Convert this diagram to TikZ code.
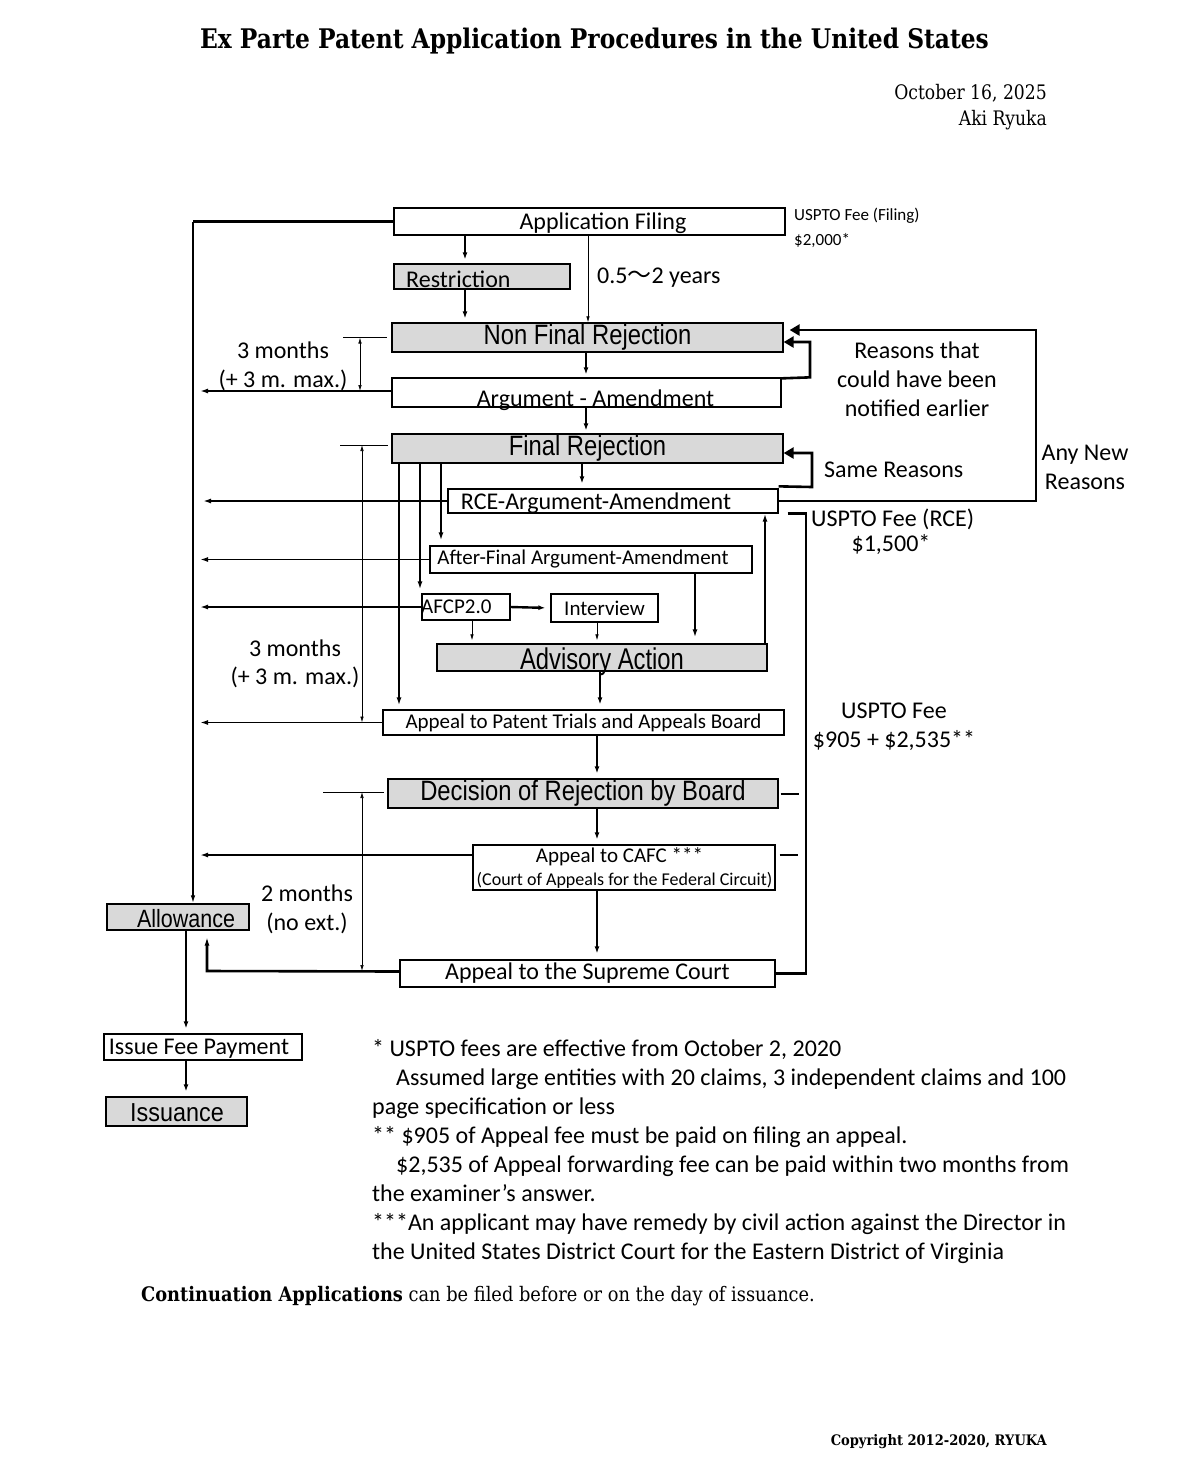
\documentclass[tikz,border=0pt]{standalone}
\usepackage{fontspec}
\usepackage{graphicx}
\setmainfont{Carlito}
\newfontfamily\arialf{Liberation Sans}
\newfontfamily\serf{DejaVu Serif}
\newfontfamily\cjkf{Noto Sans CJK JP}
\usetikzlibrary{arrows.meta}
\newcommand\fs[1]{\fontsize{#1}{#1}\selectfont}
\newcommand\narr[3]{\scalebox{#2}[1]{\fontsize{#1}{#1}\selectfont\arialf #3}}
\newcommand\serx[3]{\scalebox{#2}[1]{\fontsize{#1}{#1}\selectfont\serf #3}}
\definecolor{boxgray}{RGB}{217,217,217}
\begin{document}
\begin{tikzpicture}[x=1pt,y=-1pt,
  box/.style={draw=black, line width=1.3pt, inner sep=0pt, fill=white},
  gbox/.style={box, fill=boxgray},
  txt/.style={inner sep=0pt, font=\fs{24}},
  fat/.style={line width=2.4pt, -{Latex[length=7pt,width=5pt]}},
  mid/.style={line width=1.8pt, -{Latex[length=8pt,width=5pt]}},
  fine/.style={line width=0.7pt, -{Latex[length=6pt,width=3.5pt]}},
  dimar/.style={line width=0.7pt, {Latex[length=6pt,width=3.5pt]}-{Latex[length=6pt,width=3.5pt]}},
  tick/.style={line width=0.7pt},
  loopar/.style={line width=2.6pt, -{Triangle[length=10pt,width=11pt]}},
  thickln/.style={line width=2.6pt}]
\fill[white] (0,0) rectangle (1190,1476);
\useasboundingbox (0,0) rectangle (1190,1476);

% header
\node[inner sep=0pt, anchor=base] (title) at (594.5,48) {\serx{27}{0.865}{\bfseries Ex Parte Patent Application Procedures in the United States}};
\node[inner sep=0pt, anchor=base east] (date) at (1047,99) {\serx{20}{0.86}{October 16, 2025}};
\node[inner sep=0pt, anchor=base east] (auth) at (1047,125) {\serx{20}{0.86}{Aki Ryuka}};

% boxes
\node[box, minimum width=391pt, minimum height=27pt] (appf) at (589.5,221.5) {};
\node[txt, anchor=base] (appft) at (603,229.5) {Application Filing};
\node[gbox, minimum width=176pt, minimum height=25pt] (restr) at (482,276.5) {};
\node[txt, anchor=base west] (restrt) at (406,287.5) {Restriction};
\node[gbox, minimum width=391pt, minimum height=29pt] (nfr) at (587.5,337.5) {\narr{28}{0.85}{Non Final Rejection}};
\node[box, minimum width=389pt, minimum height=29pt] (argam) at (586.5,392.5) {};
\node[txt, anchor=base] (argamt) at (595.5,406.5) {Argument - Amendment};
\node[gbox, minimum width=391pt, minimum height=29pt] (fr) at (587.5,448.5) {\narr{28}{0.85}{Final Rejection}};
\node[box, minimum width=330pt, minimum height=24pt] (rce) at (613,501) {};
\node[txt, anchor=base] (rcet) at (596,509.5) {RCE-Argument-Amendment};
\node[box, minimum width=322pt, minimum height=27pt] (afa) at (591,559.5) {};
\node[txt, anchor=base, font=\fs{21}] (afat) at (583,564) {After-Final Argument-Amendment};
\node[box, minimum width=88pt, minimum height=26pt] (afcp) at (466,607) {};
\node[txt, anchor=base west, font=\fs{21}] (afcpt) at (421,613) {AFCP2.0};
\node[box, minimum width=107pt, minimum height=28pt, font=\fs{21}] (intv) at (604.5,608) {Interview};
\node[gbox, minimum width=330pt, minimum height=27pt] (adv) at (602,657.5) {};
\node[txt, anchor=base] (advt) at (602,669) {\narr{30}{0.793}{Advisory Action}};
\node[box, minimum width=401pt, minimum height=25pt, font=\fs{21}] (ptab) at (583.5,722.5) {Appeal to Patent Trials and Appeals Board};
\node[gbox, minimum width=390pt, minimum height=29pt] (dec) at (583,793.5) {\narr{28}{0.85}{Decision of Rejection by Board}};
\node[box, minimum width=302pt, minimum height=45pt] (cafc) at (624,867.5) {};
\node[txt, anchor=base, font=\fs{21}] (cafct1) at (619.5,862) {Appeal to CAFC ***};
\node[txt, anchor=base, font=\fs{18}] (cafct2) at (624.5,885) {(Court of Appeals for the Federal Circuit)};
\node[box, minimum width=375pt, minimum height=27pt, font=\fs{24}] (sup) at (587.5,973.5) {Appeal to the Supreme Court};
\node[gbox, minimum width=142pt, minimum height=26pt] (allow) at (178,917) {};
\node[txt, anchor=base] (allowt) at (186,927) {\narr{25}{0.86}{Allowance}};
\node[box, minimum width=198pt, minimum height=26pt] (ifp) at (203,1047) {};
\node[txt, anchor=base] (ifpt) at (199,1054.5) {Issue Fee Payment};
\node[gbox, minimum width=141pt, minimum height=29pt] (iss) at (176.5,1111.5) {};
\node[txt, anchor=base] (isst) at (177,1121) {\narr{26}{0.9}{Issuance}};

% labels
\node[txt, anchor=base west, font=\fs{17}] (feef1) at (794,220) {USPTO Fee (Filing)};
\node[txt, anchor=base west, font=\fs{17}] (feef2) at (794,245) {\$2,000*};
\node[txt, anchor=base west] (yrs) at (597,283.5) {0.5{\cjkf 〜}2 years};
\node[txt, anchor=base] (m1a) at (283,358.5) {3 months};
\node[txt, anchor=base] (m1b) at (283,387.5) {(+ 3 m. max.)};
\node[txt, anchor=base] (rs1) at (917,358.5) {Reasons that};
\node[txt, anchor=base] (rs2) at (917,387.5) {could have been};
\node[txt, anchor=base] (rs3) at (917,416.5) {notified earlier};
\node[txt, anchor=base west] (same) at (824,477.5) {Same Reasons};
\node[txt, anchor=base] (any1) at (1085,460.5) {Any New};
\node[txt, anchor=base] (any2) at (1085,489.5) {Reasons};
\node[txt, anchor=base west] (feer1) at (811,526.5) {USPTO Fee (RCE)};
\node[txt, anchor=base] (feer2) at (891,551.5) {\$1,500*};
\node[txt, anchor=base] (m2a) at (295,656.5) {3 months};
\node[txt, anchor=base] (m2b) at (295,684.5) {(+ 3 m. max.)};
\node[txt, anchor=base] (feea1) at (894,718.5) {USPTO Fee};
\node[txt, anchor=base] (feea2) at (894,747.5) {\$905 + \$2,535**};
\node[txt, anchor=base] (m3a) at (307,901.5) {2 months};
\node[txt, anchor=base] (m3b) at (307,930.5) {(no ext.)};

% notes
\node[txt, anchor=base west] (n1) at (372,1056.5) {* USPTO fees are effective from October 2, 2020};
\node[txt, anchor=base west] (n2) at (396,1085.5) {Assumed large entities with 20 claims, 3 independent claims and 100};
\node[txt, anchor=base west] (n3) at (372,1114.5) {page specification or less};
\node[txt, anchor=base west] (n4) at (372,1143.5) {** \$905 of Appeal fee must be paid on filing an appeal.};
\node[txt, anchor=base west] (n5) at (396,1172.5) {\$2,535 of Appeal forwarding fee can be paid within two months from};
\node[txt, anchor=base west] (n6) at (372,1201.5) {the examiner’s answer.};
\node[txt, anchor=base west] (n7) at (372,1230.5) {***An applicant may have remedy by civil action against the Director in};
\node[txt, anchor=base west] (n8) at (372,1259.5) {the United States District Court for the Eastern District of Virginia};
\node[inner sep=0pt, anchor=base west] (cont) at (141,1301) {\serx{20}{0.89}{{\bfseries Continuation Applications} can be filed before or on the day of issuance.}};
\node[inner sep=0pt, anchor=base east] (copy) at (1047,1445) {\serx{14.5}{0.9}{\bfseries Copyright 2012-2020, RYUKA}};

% main flow
\draw[fat, shorten >=4pt] (465,0 |- appf.south) -- (465,0 |- restr.north);
\draw[fat, shorten >=4pt] (465,0 |- restr.south) -- (465,0 |- nfr.north);
\draw[fine] (588,0 |- appf.south) -- (588,0 |- nfr.north);
\draw[fat, shorten >=3pt] (586,0 |- nfr.south) -- (586,0 |- argam.north);
\draw[fat, shorten >=3pt] (586,0 |- argam.south) -- (586,0 |- fr.north);
\draw[fat, shorten >=5pt] (582,0 |- fr.south) -- (582,0 |- rce.north);

% loops on right
\draw[loopar] ([yshift=-1pt]argam.north east) -- (810,0 |- argam.north east) -- (810,342) -- (nfr.east |- 0,342);
\draw[loopar] ([yshift=2pt]rce.north east) -- (812,487) -- (812,453) -- (fr.east |- 0,453);
\draw[loopar] (rce.east) -- (1036,0 |- rce.east) -- (1036,330) -- ([xshift=6pt]nfr.east |- 0,330);

% fee bracket
\draw[thickln] ([xshift=9pt]rce.south east) -- (806,0 |- rce.south east) -- (806,0 |- sup.east) -- (sup.east);
\draw[line width=2pt] ([xshift=2pt]dec.east) -- ++(18,0);
\draw[line width=2pt] ([xshift=4pt,yshift=12.5pt]cafc.east) -- ++(18,0);

% final rejection branches
\draw[mid, shorten >=4pt] (399,0 |- fr.south) -- (399,0 |- ptab.north);
\draw[mid, shorten >=4pt] (420,0 |- fr.south) -- (420,0 |- afcp.north);
\draw[mid, shorten >=5pt] (441,0 |- fr.south) -- (441,0 |- afa.north);
\draw[mid] (765,0 |- adv.north) -- (765,0 |- rce.south);
\draw[mid, shorten >=6pt] (695,0 |- afa.south) -- (695,0 |- adv.north);
\draw[fine, shorten >=3pt] (472,0 |- afcp.south) -- (472,0 |- adv.north);
\draw[fine, shorten >=3pt] (597,0 |- intv.south) -- (597,0 |- adv.north);
\draw[fat, shorten >=5pt] (afcp.east) -- (intv.west);
\draw[fat, shorten >=5pt] (600,0 |- adv.south) -- (600,0 |- ptab.north);
\draw[fat, shorten >=5pt] (597,0 |- ptab.south) -- (597,0 |- dec.north);
\draw[fat, shorten >=5pt] (597,0 |- dec.south) -- (597,0 |- cafc.north);
\draw[fat, shorten >=6pt] (597,0 |- cafc.south) -- (597,0 |- sup.north);

% left-going arrows
\draw[mid] ([yshift=1.5pt]argam.west) -- (200,391);
\draw[mid] (rce.west) -- (203,0 |- rce.west);
\draw[mid] (afa.west) -- (200,0 |- afa.west);
\draw[mid] (afcp.west) -- (200,0 |- afcp.west);
\draw[mid] (ptab.west) -- (200,0 |- ptab.west);
\draw[mid] ([yshift=12.5pt]cafc.west) -- (200,855);

% left trunk
\draw[line width=3pt] (appf.west) -- (193,0 |- appf.west);
\draw[line width=1.5pt, -{Latex[length=8pt,width=4.5pt]}] (193,0 |- appf.west) -- (193,0 |- allow.north);
\draw[thickln, -{Latex[length=9pt,width=5pt]}, shorten >=6pt] ([yshift=2pt]sup.west) -- (207,971) -- (207,0 |- allow.south);
\draw[fat, shorten >=5pt] (186,0 |- allow.south) -- (186,0 |- ifp.north);
\draw[fat, shorten >=5pt] (186,0 |- ifp.south) -- (186,0 |- iss.north);

% dimension marks
\draw[tick] (343,0 |- nfr.west) -- ([xshift=-4pt]nfr.west);
\draw[dimar] (360,0 |- nfr.west) -- (360,391);
\draw[tick] (340,445) -- (388,445);
\draw[dimar] (362,445) -- (362,0 |- ptab.west);
\draw[tick] (323,792) -- (384,792);
\draw[dimar] (362,792) -- (362,971);
\end{tikzpicture}
\end{document}
